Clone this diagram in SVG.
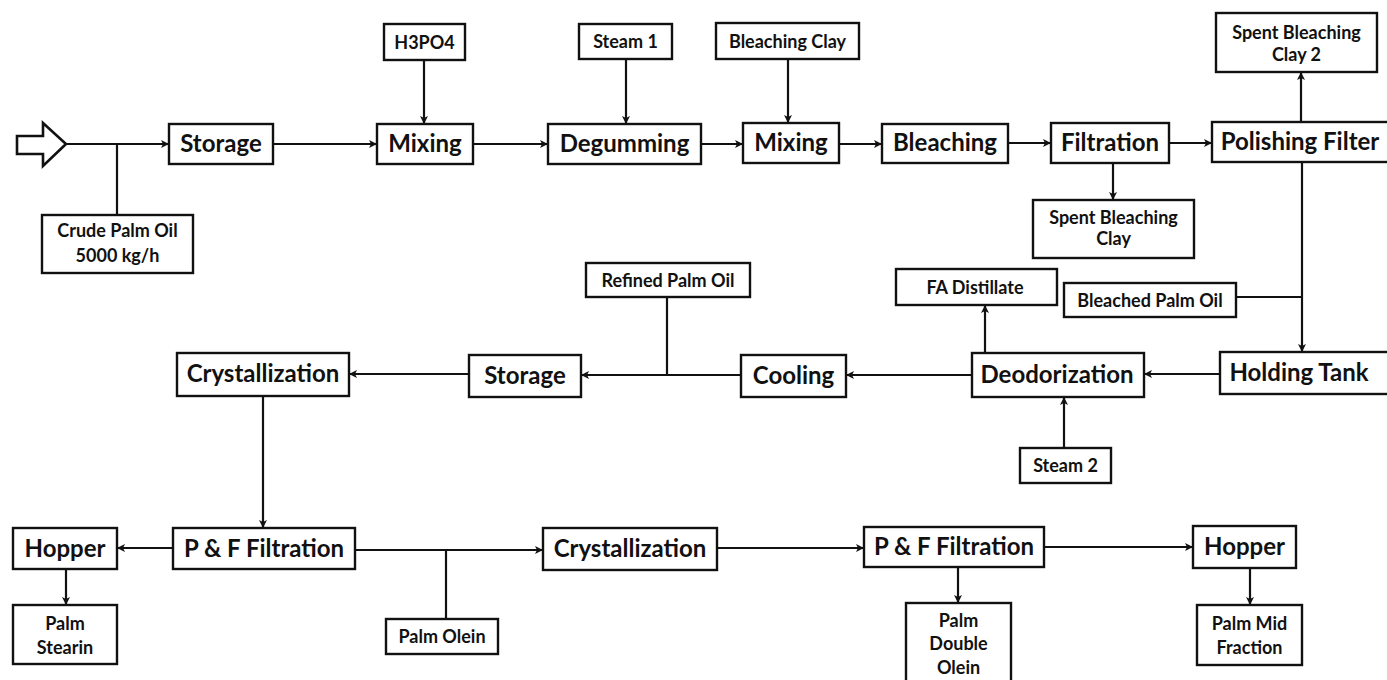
<svg xmlns="http://www.w3.org/2000/svg" width="1387" height="680" viewBox="0 0 1387 680">
<defs>
<style>
.box{fill:#fff;stroke:#111;stroke-width:2.4}
.big{font-family:Lato,"Open Sans","Liberation Sans",sans-serif;font-weight:bold;font-size:24px;fill:#111;text-anchor:middle}
.sm{font-family:Lato,"Open Sans","Liberation Sans",sans-serif;font-weight:bold;font-size:18px;fill:#111;text-anchor:middle}
.ln{fill:none;stroke:#111;stroke-width:2.2}
.ar{fill:none;stroke:#111;stroke-width:2.2;marker-end:url(#ah)}
</style>
<marker id="ah" markerUnits="userSpaceOnUse" markerWidth="10" markerHeight="10" refX="8" refY="4" orient="auto">
<path d="M0,0 L8,4 L0,8 L2,4 Z" fill="#111"/>
</marker>
</defs>
<rect width="1387" height="680" fill="#fff"/>
<g id="connectors">
<polygon points="17,136 43,136 43,123 66,144 43,166 43,154 17,154" fill="#fff" stroke="#111" stroke-width="2.6"/>
<line class="ar" x1="66" y1="144" x2="169" y2="144"/>
<line class="ln" x1="117" y1="144" x2="117" y2="215"/>
<line class="ar" x1="273" y1="144" x2="377" y2="144"/>
<line class="ar" x1="424" y1="60" x2="424" y2="124"/>
<line class="ar" x1="473" y1="144" x2="548" y2="144"/>
<line class="ar" x1="626" y1="59" x2="626" y2="124"/>
<line class="ar" x1="701" y1="144" x2="743" y2="144"/>
<line class="ar" x1="788" y1="59" x2="788" y2="123"/>
<line class="ar" x1="839" y1="144" x2="882" y2="144"/>
<line class="ar" x1="1008" y1="143" x2="1051" y2="143"/>
<line class="ar" x1="1169" y1="143" x2="1212" y2="143"/>
<line class="ar" x1="1301" y1="122" x2="1301" y2="72"/>
<line class="ar" x1="1113" y1="163" x2="1113" y2="200"/>
<line class="ar" x1="1302" y1="162" x2="1302" y2="352"/>
<line class="ln" x1="1236" y1="297" x2="1302" y2="297"/>
<line class="ar" x1="1220" y1="374" x2="1144" y2="374"/>
<line class="ar" x1="985" y1="353" x2="985" y2="305"/>
<line class="ar" x1="1064" y1="448" x2="1064" y2="397"/>
<line class="ar" x1="972" y1="375" x2="846" y2="375"/>
<line class="ar" x1="741" y1="375" x2="581" y2="375"/>
<line class="ln" x1="667" y1="297" x2="667" y2="375"/>
<line class="ar" x1="469" y1="374" x2="349" y2="374"/>
<line class="ar" x1="263" y1="396" x2="263" y2="528"/>
<line class="ar" x1="173" y1="548" x2="117" y2="548"/>
<line class="ar" x1="66" y1="569" x2="66" y2="605"/>
<line class="ar" x1="355" y1="550" x2="543" y2="550"/>
<line class="ln" x1="446" y1="550" x2="446" y2="619"/>
<line class="ar" x1="717" y1="548" x2="864" y2="548"/>
<line class="ar" x1="958" y1="567" x2="958" y2="603"/>
<line class="ar" x1="1044" y1="547" x2="1193" y2="547"/>
<line class="ar" x1="1250" y1="568" x2="1250" y2="605"/>
</g>
<g id="storage1"><rect class="box" x="169" y="124" width="104" height="40"/><text class="big" x="221" y="152">Storage</text></g>
<g id="mixing1"><rect class="box" x="377" y="124" width="96" height="40"/><text class="big" x="425" y="152">Mixing</text></g>
<g id="h3po4"><rect class="box" x="384" y="24" width="81" height="36"/><text class="sm" x="424.5" y="48.5">H3PO4</text></g>
<g id="degumming"><rect class="box" x="548" y="124" width="153" height="40"/><text class="big" x="624.5" y="152">Degumming</text></g>
<g id="steam1"><rect class="box" x="579" y="24" width="93" height="35"/><text class="sm" x="625.5" y="48">Steam 1</text></g>
<g id="bleachingclay"><rect class="box" x="716" y="23" width="143" height="36"/><text class="sm" x="787.5" y="47.5">Bleaching Clay</text></g>
<g id="mixing2"><rect class="box" x="743" y="123" width="96" height="40"/><text class="big" x="791" y="151">Mixing</text></g>
<g id="bleaching"><rect class="box" x="882" y="124" width="126" height="39"/><text class="big" x="945" y="151">Bleaching</text></g>
<g id="filtration"><rect class="box" x="1051" y="123" width="118" height="40"/><text class="big" x="1110" y="151">Filtration</text></g>
<g id="polishing"><rect class="box" x="1212" y="122" width="190" height="40"/><text class="big" x="1300" y="150">Polishing Filter</text></g>
<g id="spent2"><rect class="box" x="1216" y="13" width="161" height="59"/><text class="sm" x="1296.5" y="38.5">Spent Bleaching</text><text class="sm" x="1296.5" y="60.5">Clay 2</text></g>
<g id="spent1"><rect class="box" x="1033" y="200" width="161" height="58"/><text class="sm" x="1113.5" y="223.5">Spent Bleaching</text><text class="sm" x="1113.5" y="244.5">Clay</text></g>
<g id="crude"><rect class="box" x="42" y="215" width="151" height="58"/><text class="sm" x="117.5" y="236.5">Crude Palm Oil</text><text class="sm" x="117.5" y="261.5">5000 kg/h</text></g>
<g id="refined"><rect class="box" x="586" y="263" width="164" height="34"/><text class="sm" x="668" y="286.5">Refined Palm Oil</text></g>
<g id="fadistillate"><rect class="box" x="896" y="269" width="161" height="36"/><text class="sm" x="975" y="293.5">FA Distillate</text></g>
<g id="bleachedoil"><rect class="box" x="1064" y="283" width="172" height="34"/><text class="sm" x="1150" y="306.5">Bleached Palm Oil</text></g>
<g id="holdingtank"><rect class="box" x="1220" y="352" width="170" height="42"/><text class="big" x="1299" y="381">Holding Tank</text></g>
<g id="deodorization"><rect class="box" x="972" y="353" width="172" height="44"/><text class="big" x="1057" y="383">Deodorization</text></g>
<g id="steam2"><rect class="box" x="1020" y="448" width="91" height="35"/><text class="sm" x="1065.5" y="472">Steam 2</text></g>
<g id="cooling"><rect class="box" x="741" y="355" width="105" height="42"/><text class="big" x="793.5" y="384">Cooling</text></g>
<g id="storage2"><rect class="box" x="469" y="355" width="112" height="42"/><text class="big" x="525" y="384">Storage</text></g>
<g id="crystallization1"><rect class="box" x="177" y="353" width="172" height="43"/><text class="big" x="263" y="382">Crystallization</text></g>
<g id="pffiltration1"><rect class="box" x="173" y="528" width="182" height="41"/><text class="big" x="264" y="557">P &amp; F Filtration</text></g>
<g id="hopper1"><rect class="box" x="13" y="528" width="104" height="41"/><text class="big" x="65" y="557">Hopper</text></g>
<g id="stearin"><rect class="box" x="13" y="605" width="104" height="59"/><text class="sm" x="65" y="629.5">Palm</text><text class="sm" x="65" y="653.5">Stearin</text></g>
<g id="olein"><rect class="box" x="386" y="619" width="112" height="35"/><text class="sm" x="442" y="643">Palm Olein</text></g>
<g id="crystallization2"><rect class="box" x="543" y="528" width="174" height="42"/><text class="big" x="630" y="557">Crystallization</text></g>
<g id="pffiltration2"><rect class="box" x="864" y="527" width="180" height="40"/><text class="big" x="954" y="555">P &amp; F Filtration</text></g>
<g id="doubleolein"><rect class="box" x="906" y="603" width="105" height="82"/><text class="sm" x="958.5" y="626.5">Palm</text><text class="sm" x="958.5" y="649.5">Double</text><text class="sm" x="958.5" y="673.5">Olein</text></g>
<g id="hopper2"><rect class="box" x="1193" y="526" width="103" height="42"/><text class="big" x="1244.5" y="555">Hopper</text></g>
<g id="midfraction"><rect class="box" x="1197" y="605" width="105" height="60"/><text class="sm" x="1249.5" y="629.5">Palm Mid</text><text class="sm" x="1249.5" y="653.5">Fraction</text></g>
</svg>
